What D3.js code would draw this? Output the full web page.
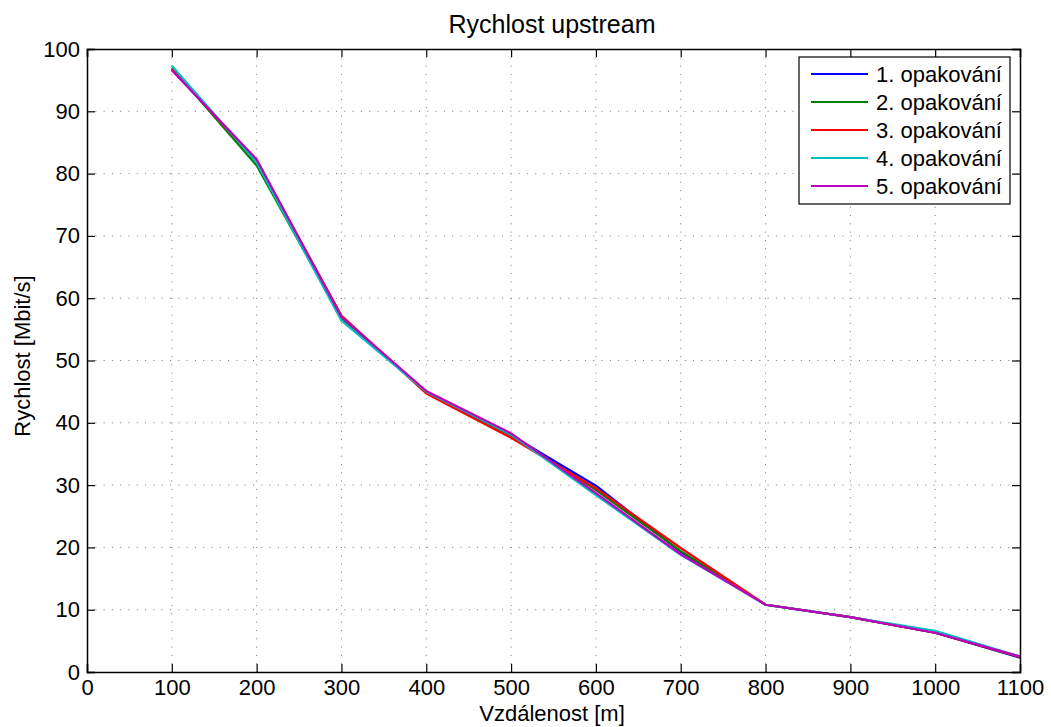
<!DOCTYPE html>
<html><head><meta charset="utf-8">
<script src="https://cdn.jsdelivr.net/npm/d3@7"></script>
<style>body{margin:0;background:#fff}svg{display:block;font-family:"Liberation Sans",Arial,sans-serif}</style>
</head><body><svg id="c" width="1051" height="727"></svg>
<script>
const distances = [100,200,300,400,500,600,700,800,900,1000,1100];
const rep1 = [96.7,82.0,56.9,44.9,38.0,29.9,19.3,10.8,8.8,6.3,2.3];
const rep2 = [97.0,81.3,56.8,44.9,38.0,29.2,19.4,10.8,8.8,6.3,2.4];
const rep3 = [96.8,82.0,57.2,44.7,37.6,29.5,19.9,10.8,8.8,6.3,2.4];
const rep4 = [97.3,81.8,56.4,45.0,38.1,28.4,18.8,10.8,8.8,6.6,2.5];
const rep5 = [96.6,82.3,57.0,45.1,38.3,28.7,18.9,10.8,8.8,6.3,2.5];
const seriesNames = ["1. opakování","2. opakování","3. opakování","4. opakování","5. opakování"];
const seriesColors = ["#0000ff","#008000","#ff0000","#00bfbf","#bf00bf"];
const xTicks = [0,100,200,300,400,500,600,700,800,900,1000,1100];
const yTicks = [0,10,20,30,40,50,60,70,80,90,100];
const title = "Rychlost upstream", xLabel = "Vzdálenost [m]", yLabel = "Rychlost [Mbit/s]";
const allSeries = [rep1,rep2,rep3,rep4,rep5];

const svg = d3.select("#c");
const L=87,R=1020,T=49,B=672;
const x = d3.scaleLinear().domain([0,1100]).range([L,R]);
const y = d3.scaleLinear().domain([0,100]).range([B,T]);

// grid
const g = svg.append("g");
g.selectAll(".gx").data(xTicks.filter(d=>d>0&&d<1100)).join("line")
 .attr("x1",d=>x(d)).attr("x2",d=>x(d)).attr("y1",T).attr("y2",B)
 .attr("stroke","#777").attr("stroke-width",1).attr("stroke-dasharray","1,7.3");
g.selectAll(".gy").data(yTicks.filter(d=>d>0&&d<100)).join("line")
 .attr("y1",d=>y(d)).attr("y2",d=>y(d)).attr("x1",L).attr("x2",R)
 .attr("stroke","#777").attr("stroke-width",1).attr("stroke-dasharray","1,7.3");

// lines
const line = d3.line().x((d,i)=>x(distances[i])).y(d=>y(d));
allSeries.forEach((s,k)=>{
  svg.append("path").datum(s).attr("d",line).attr("fill","none")
   .attr("stroke",seriesColors[k]).attr("stroke-width",2.2).attr("stroke-linejoin","round");
});

// axes (MATLAB style, inward ticks)
const tk=8;
const ax = svg.append("g");
ax.append("g").attr("transform",`translate(0,${B})`)
 .call(d3.axisBottom(x).tickValues(xTicks).tickSize(-tk).tickPadding(7).tickFormat(d3.format("d")));
ax.append("g").attr("transform",`translate(0,${T})`)
 .call(d3.axisTop(x).tickValues(xTicks).tickSize(-tk).tickFormat(""));
ax.append("g").attr("transform",`translate(${L},0)`)
 .call(d3.axisLeft(y).tickValues(yTicks).tickSize(-tk).tickPadding(7).tickFormat(d3.format("d")));
ax.append("g").attr("transform",`translate(${R},0)`)
 .call(d3.axisRight(y).tickValues(yTicks).tickSize(-tk).tickFormat(""));
svg.selectAll(".domain").attr("stroke","#000").attr("stroke-width",1.5);
svg.selectAll(".tick line").attr("stroke","#000").attr("stroke-width",1.2);
svg.selectAll(".tick text").attr("font-size",22).attr("fill","#000")
 .attr("font-family","'Liberation Sans',Arial,sans-serif");

// labels
svg.append("text").attr("x",552).attr("y",33).attr("text-anchor","middle")
 .attr("font-size",25).text(title);
svg.append("text").attr("x",552).attr("y",721).attr("text-anchor","middle")
 .attr("font-size",22).text(xLabel);
svg.append("text").attr("transform",`translate(30,356) rotate(-90)`).attr("text-anchor","middle")
 .attr("font-size",22).text(yLabel);

// legend
const lg = svg.append("g");
lg.append("rect").attr("x",799).attr("y",57).attr("width",211).attr("height",147)
 .attr("fill","#fff").attr("stroke","#000").attr("stroke-width",1.2);
seriesNames.forEach((n,i)=>{
  const yy = 74+i*28;
  lg.append("line").attr("x1",811).attr("x2",868).attr("y1",yy).attr("y2",yy)
   .attr("stroke",seriesColors[i]).attr("stroke-width",2);
  lg.append("text").attr("x",876).attr("y",yy+8).attr("font-size",22).text(n);
});
</script></body></html>
